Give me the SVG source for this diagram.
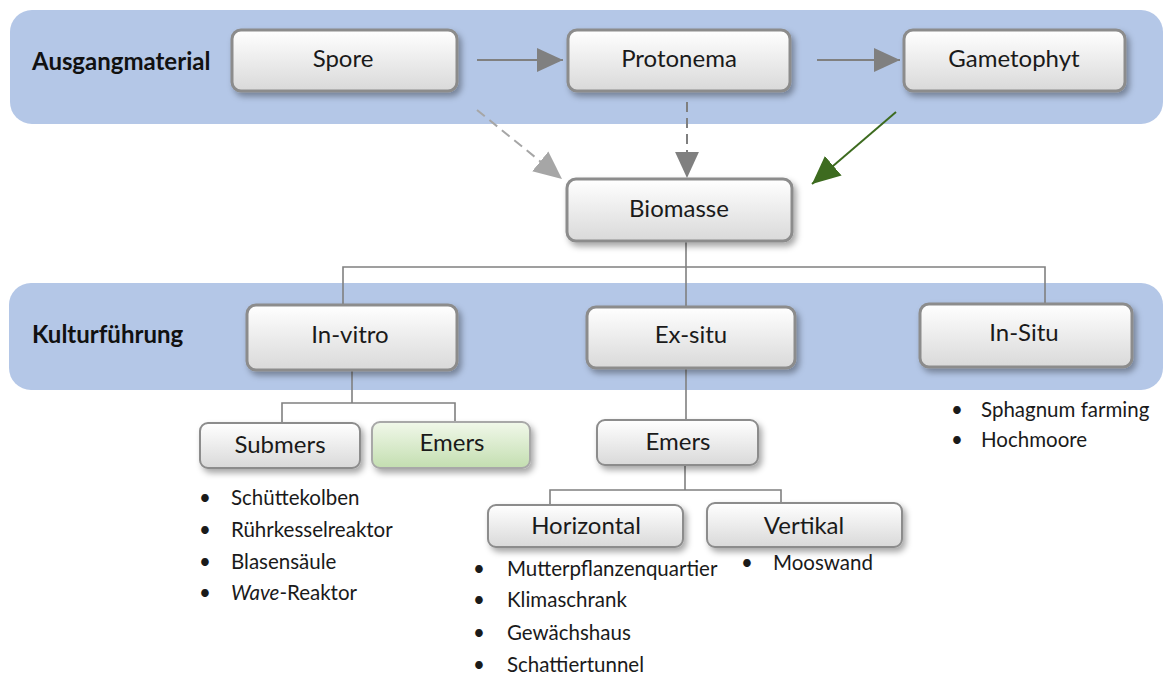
<svg xmlns="http://www.w3.org/2000/svg" width="1165" height="675" viewBox="0 0 1165 675">
<defs>
<linearGradient id="gGray" x1="0" y1="0" x2="0" y2="1"><stop offset="0" stop-color="#ffffff"/><stop offset="1" stop-color="#d9d9d9"/></linearGradient>
<linearGradient id="gGreen" x1="0" y1="0" x2="0" y2="1"><stop offset="0" stop-color="#f1f8ea"/><stop offset="1" stop-color="#c3deb0"/></linearGradient>
<filter id="sh" x="-20%" y="-30%" width="140%" height="170%"><feDropShadow dx="3" dy="4" stdDeviation="3" flood-color="#000" flood-opacity="0.35"/></filter>
<marker id="aGray" markerUnits="userSpaceOnUse" markerWidth="26" markerHeight="26" viewBox="0 0 24 24" refX="24" refY="12" orient="auto"><path d="M0,1 L24,12 L0,23 Z" fill="#808080"/></marker>
<marker id="aLight" markerUnits="userSpaceOnUse" markerWidth="28" markerHeight="28" viewBox="0 0 24 24" refX="24" refY="12" orient="auto"><path d="M0,1 L24,12 L0,23 Z" fill="#a6a6a6"/></marker>
<marker id="aGreen" markerUnits="userSpaceOnUse" markerWidth="28" markerHeight="28" viewBox="0 0 24 24" refX="24" refY="12" orient="auto"><path d="M0,1 L24,12 L0,23 Z" fill="#3d6b1f"/></marker>
</defs>
<style>
.band{fill:#b4c7e7}
.box{fill:url(#gGray);stroke:#8c8c8c;stroke-width:3;filter:url(#sh)}
.sm{stroke-width:2}
.green{fill:url(#gGreen);stroke:#a8a8a8;stroke-width:2;filter:url(#sh)}
.lbl{font-family:Lato,"Open Sans",sans-serif;font-size:24px;fill:#1a1a1a;text-anchor:middle}
.head{font-family:Lato,"Open Sans",sans-serif;font-size:24px;font-weight:bold;fill:#111}
.item{font-family:Lato,"Open Sans",sans-serif;font-size:20.5px;fill:#1a1a1a}
.tree{fill:none;stroke:#808080;stroke-width:1.6}
</style>
<rect width="1165" height="675" fill="#ffffff"/>
<rect class="band" x="10" y="10" width="1153" height="114" rx="22"/>
<rect class="band" x="9" y="283" width="1154" height="107" rx="22"/>
<text class="head" x="32" y="70">Ausgangmaterial</text>
<text class="head" x="32" y="343">Kulturführung</text>

<g id="connectors">
<line x1="477" y1="60" x2="563" y2="60" stroke="#808080" stroke-width="2" marker-end="url(#aGray)"/>
<line x1="817" y1="60" x2="900" y2="60" stroke="#808080" stroke-width="2" marker-end="url(#aGray)"/>
<line x1="477" y1="110" x2="562" y2="179" stroke="#a6a6a6" stroke-width="2" stroke-dasharray="10,6" marker-end="url(#aLight)"/>
<line x1="687" y1="102" x2="687" y2="178" stroke="#7f7f7f" stroke-width="2" stroke-dasharray="10,6" marker-end="url(#aGray)"/>
<line x1="896" y1="112" x2="812" y2="184" stroke="#3d6b1f" stroke-width="2" marker-end="url(#aGreen)"/>
<path class="tree" d="M686,242 V267 M343,305 V267 H1045 V304 M686,267 V307"/>
<path class="tree" d="M352,370 V403 M282,423 V403 H455 V422"/>
<path class="tree" d="M686,368 V420"/>
<path class="tree" d="M685,465 V490 M550,505 V490 H781 V503"/>
</g>

<g id="spore"><rect class="box" x="232" y="30" width="225" height="61" rx="9"/><text class="lbl" x="343" y="67">Spore</text></g>
<g id="protonema"><rect class="box" x="568" y="30" width="222" height="61" rx="9"/><text class="lbl" x="679" y="67">Protonema</text></g>
<g id="gametophyt"><rect class="box" x="904" y="30" width="221" height="61" rx="9"/><text class="lbl" x="1014" y="67">Gametophyt</text></g>
<g id="biomasse"><rect class="box" x="567" y="179" width="225" height="62" rx="9"/><text class="lbl" x="679" y="217">Biomasse</text></g>
<g id="invitro"><rect class="box" x="247" y="305" width="210" height="65" rx="9"/><text class="lbl" x="350" y="343">In-vitro</text></g>
<g id="exsitu"><rect class="box" x="587" y="307" width="208" height="61" rx="9"/><text class="lbl" x="691" y="343">Ex-situ</text></g>
<g id="insitu"><rect class="box" x="920" y="304" width="212" height="63" rx="9"/><text class="lbl" x="1024" y="341">In-Situ</text></g>
<g id="submers"><rect class="box sm" x="200" y="423" width="160" height="45" rx="8"/><text class="lbl" x="280" y="453">Submers</text></g>
<g id="emers-vitro"><rect class="green" x="372" y="422" width="158" height="46" rx="8"/><text class="lbl" x="452" y="451">Emers</text></g>
<g id="emers-situ"><rect class="box sm" x="597" y="420" width="161" height="45" rx="8"/><text class="lbl" x="678" y="450">Emers</text></g>
<g id="horizontal"><rect class="box sm" x="488" y="505" width="195" height="42" rx="8"/><text class="lbl" x="586" y="534">Horizontal</text></g>
<g id="vertikal"><rect class="box sm" x="707" y="503" width="195" height="44" rx="8"/><text class="lbl" x="804" y="534">Vertikal</text></g>

<g id="list-submers" class="item">
<text x="199" y="505">•</text><text x="231" y="505">Schüttekolben</text>
<text x="199" y="537">•</text><text x="231" y="537">Rührkesselreaktor</text>
<text x="199" y="569">•</text><text x="231" y="569">Blasensäule</text>
<text x="199" y="600">•</text><text x="231" y="600"><tspan font-style="italic">Wave</tspan>-Reaktor</text>
</g>
<g id="list-horizontal" class="item">
<text x="473" y="576">•</text><text x="507" y="576">Mutterpflanzenquartier</text>
<text x="473" y="607">•</text><text x="507" y="607">Klimaschrank</text>
<text x="473" y="640">•</text><text x="507" y="640">Gewächshaus</text>
<text x="473" y="672">•</text><text x="507" y="672">Schattiertunnel</text>
</g>
<g id="list-vertikal" class="item"><text x="741" y="570">•</text><text x="773" y="570">Mooswand</text></g>
<g id="list-insitu" class="item">
<text x="951" y="417">•</text><text x="981" y="417">Sphagnum farming</text>
<text x="951" y="447">•</text><text x="981" y="447">Hochmoore</text>
</g>
</svg>
